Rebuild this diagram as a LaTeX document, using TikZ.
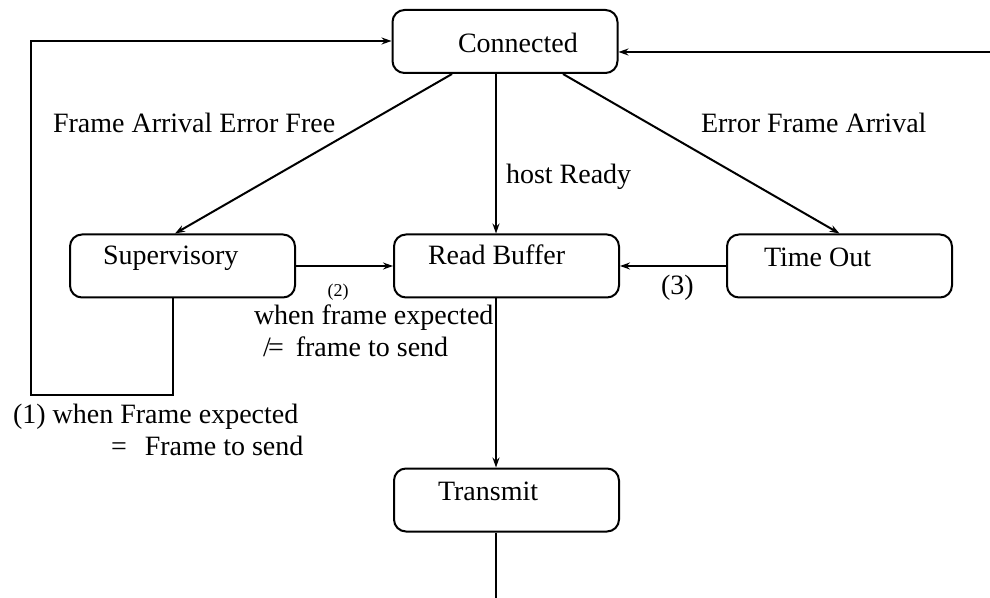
\documentclass[tikz,border=0pt]{standalone}
\usepackage{fontspec}
\setmainfont{Liberation Serif}
\usetikzlibrary{arrows.meta}

\begin{document}
\begin{tikzpicture}[
  x=0.5pt, y=-0.5pt,
  line width=1pt,
  state/.style={draw, rounded corners=6pt, minimum width=112.5pt,
                minimum height=31.5pt, inner sep=0pt},
  txt/.style={anchor=base west, inner sep=0pt, font=\fontsize{14pt}{16pt}\selectfont},
  flow/.style={-{Stealth[length=5pt,width=3.5pt]}},
]
% canvas
\fill[white] (0,0) rectangle (990,598);
\useasboundingbox (0,0) rectangle (990,598);

% states
\node[state] (con) at (505,41.5) {};
\node[state] (sup) at (182.5,266) {};
\node[state] (rb)  at (506.5,266) {};
\node[state] (to)  at (839.5,266) {};
\node[state] (tr)  at (506.5,500) {};

% state names
\node[txt] (tcon) at (457,53)  {Connected};
\node[txt] (tsup) at (102,265) {Supervisory};
\node[txt] (trb)  at (427,265) {Read Buffer};
\node[txt] (tto)  at (763,267) {Time Out};
\node[txt] (ttr)  at (437,500) {Transmit};

% free ends
\coordinate (inR)  at (990,52);
\coordinate (outT) at (496,598);
\coordinate (lpA)  at (173,395);
\coordinate (lpB)  at (31,395);
\coordinate (lpC)  at (31,41);

% transitions out of Connected
\draw[flow] ([xshift=-26.5pt]con.south) -- ([xshift=-3.75pt]sup.north);
\draw[flow] ([xshift=29pt]con.south) -- (to.north);
\draw[flow] ([xshift=-4.5pt]con.south) -- ([xshift=-4.5pt]con.south |- rb.north);

% into Read Buffer
\draw[flow] (sup.east) -- (rb.west);
\draw[flow] (to.west) -- (rb.east);

% Read Buffer -> Transmit -> out
\draw[flow] ([xshift=-5.25pt]rb.south) -- ([xshift=-5.25pt]tr.north);
\draw ([xshift=-5.25pt]tr.south) -- (outT);

% loop back from Supervisory to Connected
\draw[flow] (sup.south -| lpA) -- (lpA) -- (lpB) -- (lpC) -- (lpC -| con.west);

% external input into Connected
\draw[flow] (inR) -- (inR -| con.east);

% transition labels
\node[txt] (lfree) at (52,133)  {Frame Arrival Error Free};
\node[txt] (lerr)  at (700,133) {Error Frame Arrival};
\node[txt] (lhost) at (505,184) {host Ready};
\node[inner sep=0pt, font=\fontsize{9pt}{10pt}\selectfont] (l2) at (338,292) {(2)};
\node[txt] (l3)    at (660,295) {(3)};
\node[txt] (l2a)   at (253,325) {when frame expected};
\node[txt] (l2b)   at (262,357) {\rlap{/}\kern2.5pt=\hspace{6pt}frame to send};
\node[txt] (l1a)   at (12,423)  {(1) when Frame expected};
\node[txt] (l1b)   at (110,455) {=\hspace{9pt}Frame to send};
\end{tikzpicture}
\end{document}
